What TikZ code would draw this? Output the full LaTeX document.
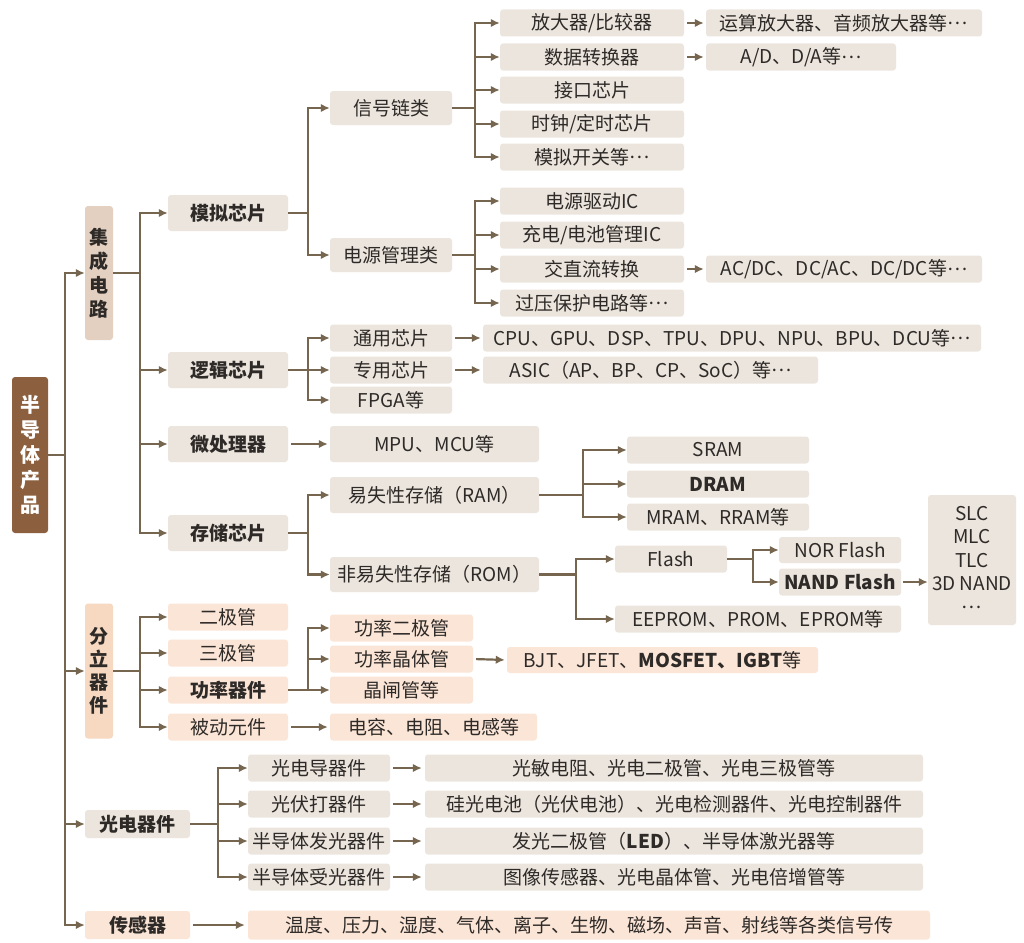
\documentclass[tikz,border=0pt]{standalone}
\usepackage{fontspec}
\setmainfont{Noto Sans CJK SC}
\usetikzlibrary{arrows.meta}
\definecolor{lnc}{HTML}{76664F}
\definecolor{gbox}{HTML}{ECE5DE}
\definecolor{pbox}{HTML}{FBE5D7}
\definecolor{tanbox}{HTML}{E4D0C1}
\definecolor{peachbox}{HTML}{F7D8C0}
\definecolor{rootbox}{HTML}{8C603F}
\definecolor{txt}{HTML}{2E2A27}
\newcommand{\cdt}{\raisebox{0.28em}{…}}
\begin{document}
\begin{tikzpicture}[x=1pt,y=-1pt,
  bx/.style={rounded corners=3pt, inner sep=0pt, text=txt, anchor=center,
             font=\fontsize{19}{22}\selectfont},
  g/.style={bx, fill=gbox},
  p/.style={bx, fill=pbox},
  bf/.style={font=\fontsize{19}{22}\selectfont\bfseries},
  sz/.style 2 args={minimum width=#1pt, minimum height=#2pt},
  arr/.style={draw=lnc, line width=2.2pt, -{Latex[length=9pt,width=8.5pt]}},
  ln/.style={draw=lnc, line width=2.2pt}
]
\useasboundingbox (0,0) rectangle (1024,942);
\fill[white] (0,0) rectangle (1024,942);

% level 1
\node[bx, fill=rootbox, sz={36}{156}, text=white, align=center,
      font=\fontsize{20}{25}\selectfont\bfseries] (root) at (30,455) {半\\导\\体\\产\\品};
\node[bx, fill=tanbox, sz={28}{134}, align=center,
      font=\fontsize{19}{24}\selectfont\bfseries] (jc) at (99,273) {集\\成\\电\\路};
\node[bx, fill=peachbox, sz={28}{135}, align=center,
      font=\fontsize{19}{23}\selectfont\bfseries] (fl) at (99,671) {分\\立\\器\\件};
\node[g, bf, sz={105}{28}] (gd) at (137.5,824) {光电器件};
\node[p, bf, sz={105}{28}] (cg) at (137.5,925) {传感器};

% level 2 IC
\node[g, bf, sz={120}{36}] (mn) at (228,213) {模拟芯片};
\node[g, bf, sz={120}{36}] (lj) at (228,370) {逻辑芯片};
\node[g, bf, sz={120}{36}] (wc) at (228,444) {微处理器};
\node[g, bf, sz={120}{36}] (cc) at (228,533) {存储芯片};

% level 2 discrete
\node[p, sz={120}{27}] (ej) at (228,617) {二极管};
\node[p, sz={120}{27}] (sj) at (228,653) {三极管};
\node[p, bf, sz={120}{27}] (gl) at (228,690) {功率器件};
\node[p, sz={120}{27}] (bd) at (228,727) {被动元件};

% level 3 IC
\node[g, sz={122}{34}] (xh) at (391,108) {信号链类};
\node[g, sz={122}{34}] (dy) at (391,255) {电源管理类};
\node[g, sz={122}{27}] (ty) at (391,338) {通用芯片};
\node[g, sz={122}{27}] (zy) at (391,370) {专用芯片};
\node[g, sz={122}{27}] (fp) at (391,400) {FPGA等};
\node[g, sz={209}{36}] (mpu) at (434.5,444) {MPU、MCU等};
\node[g, sz={209}{36}] (ram) at (434.5,495) {易失性存储（RAM）};
\node[g, sz={209}{35}] (rom) at (434.5,574.5) {非易失性存储（ROM）};

% level 3 discrete
\node[p, sz={143}{27}] (pd) at (401.5,628) {功率二极管};
\node[p, sz={143}{27}] (pt) at (401.5,659) {功率晶体管};
\node[p, sz={143}{27}] (pz) at (401.5,690) {晶闸管等};
\node[p, sz={207}{27}] (dr) at (433.5,727) {电容、电阻、电感等};
\node[p, sz={311}{26}] (bjt) at (662.5,660) {BJT、JFET、\textbf{MOSFET、IGBT}等};

% level 4 signal chain
\node[g, sz={184}{27}] (s1) at (592,23) {放大器/比较器};
\node[g, sz={184}{27}] (s2) at (592,57) {数据转换器};
\node[g, sz={184}{27}] (s3) at (592,90) {接口芯片};
\node[g, sz={184}{27}] (s4) at (592,124) {时钟/定时芯片};
\node[g, sz={184}{27}] (s5) at (592,157) {模拟开关等\cdt};
\node[g, sz={184}{27}] (p1) at (592,201) {电源驱动IC};
\node[g, sz={184}{27}] (p2) at (592,235) {充电/电池管理IC};
\node[g, sz={184}{27}] (p3) at (592,269) {交直流转换};
\node[g, sz={184}{27}] (p4) at (592,303) {过压保护电路等\cdt};

% level 5
\node[g, sz={276}{27}] (ysf) at (844,23) {运算放大器、音频放大器等\cdt};
\node[g, sz={190}{27}] (ad) at (801,57) {A/D、D/A等\cdt};
\node[g, sz={276}{27}] (ac) at (844,269) {AC/DC、DC/AC、DC/DC等\cdt};
\node[g, sz={498}{27}] (cpu) at (732,338) {CPU、GPU、DSP、TPU、DPU、NPU、BPU、DCU等\cdt};
\node[g, sz={335}{27}] (asic) at (650.5,370) {ASIC（AP、BP、CP、SoC）等\cdt};

% memory
\node[g, sz={182}{27}] (sram) at (718,450) {SRAM};
\node[g, bf, sz={182}{27}] (dram) at (718,484) {DRAM};
\node[g, sz={182}{27}] (mram) at (718,517) {MRAM、RRAM等};
\node[g, sz={112}{27}] (flash) at (671,559) {Flash};
\node[g, sz={286}{27}] (eep) at (758,619) {EEPROM、PROM、EPROM等};
\node[g, sz={122}{26}] (nor) at (840,550) {NOR Flash};
\node[g, bf, sz={122}{27}] (nand) at (840,582) {NAND Flash};
\node[g, sz={88}{130}, align=center, font=\fontsize{19}{23.5}\selectfont] (slc) at (972,560)
     {SLC\\MLC\\TLC\\3D NAND\\\cdt};

% optoelectronic
\node[g, sz={142}{27}] (o1) at (319,768) {光电导器件};
\node[g, sz={142}{27}] (o2) at (319,804) {光伏打器件};
\node[g, sz={142}{27}] (o3) at (319,841) {半导体发光器件};
\node[g, sz={142}{27}] (o4) at (319,877) {半导体受光器件};
\node[g, sz={498}{27}] (l1) at (674,768) {光敏电阻、光电二极管、光电三极管等};
\node[g, sz={498}{27}] (l2) at (674,804) {硅光电池（光伏电池）、光电检测器件、光电控制器件};
\node[g, sz={498}{27}] (l3) at (674,841) {发光二极管（\textbf{LED}）、半导体激光器等};
\node[g, sz={498}{27}] (l4) at (674,877) {图像传感器、光电晶体管、光电倍增管等};
\node[p, sz={682}{29}] (row) at (589,925) {温度、压力、湿度、气体、离子、生物、磁场、声音、射线等各类信号传};

% connectors
\foreach \c in {jc,fl,gd,cg} \draw[arr] (root.east) -- ++(17,0) |- (\c.west);
\foreach \c in {mn,lj,wc,cc} \draw[arr] (jc.east) -- ++(27,0) |- (\c.west);
\foreach \c in {xh,dy} \draw[arr] (mn.east) -- ++(20,0) |- (\c.west);
\foreach \c in {s1,s2,s3,s4,s5} \draw[arr] (xh.east) -- ++(23,0) |- (\c.west);
\foreach \c in {p1,p2,p3,p4} \draw[arr] (dy.east) -- ++(23,0) |- (\c.west);
\draw[arr, shorten <=3pt, shorten >=2pt] (s1.east) -- (ysf.west);
\draw[arr, shorten <=3pt, shorten >=2pt] (s2.east) -- (ad.west);
\draw[arr, shorten <=3pt, shorten >=2pt] (p3.east) -- (ac.west);
\foreach \c in {ty,zy,fp} \draw[arr] (lj.east) -- ++(20,0) |- (\c.west);
\draw[arr, shorten <=3pt, shorten >=2pt] (ty.east) -- (cpu.west);
\draw[arr, shorten <=3pt, shorten >=2pt] (zy.east) -- (asic.west);
\draw[arr, shorten <=3pt, shorten >=2pt] (wc.east) -- (mpu.west);
\foreach \c in {ram,rom} \draw[arr] (cc.east) -- ++(20,0) |- (\c.west);
\foreach \c in {sram,dram,mram} \draw[arr] (ram.east) -- ++(44,0) |- (\c.west);
\foreach \c in {flash,eep} \draw[arr] (rom.east) -- ++(37,0) |- (\c.west);
\foreach \c in {nor,nand} \draw[arr] (flash.east) -- ++(26,0) |- (\c.west);
\draw[arr, shorten <=2pt] (nand.east) -- (nand.east -| slc.west);
\foreach \c in {ej,sj,gl,bd} \draw[arr] (fl.east) -- ++(27,0) |- (\c.west);
\foreach \c in {pd,pt,pz} \draw[arr] (gl.east) -- ++(20,0) |- (\c.west);
\draw[arr, shorten <=3pt, shorten >=2pt] (pt.east) -- (bjt.west);
\draw[arr, shorten <=3pt, shorten >=2pt] (bd.east) -- (dr.west);
\foreach \c in {o1,o2,o3,o4} \draw[arr] (gd.east) -- ++(28,0) |- (\c.west);
\foreach \a/\b in {o1/l1,o2/l2,o3/l3,o4/l4} \draw[arr, shorten <=3pt, shorten >=3pt] (\a.east) -- (\b.west);
\draw[arr, shorten <=3pt, shorten >=3pt] (cg.east) -- (row.west);
\end{tikzpicture}
\end{document}
